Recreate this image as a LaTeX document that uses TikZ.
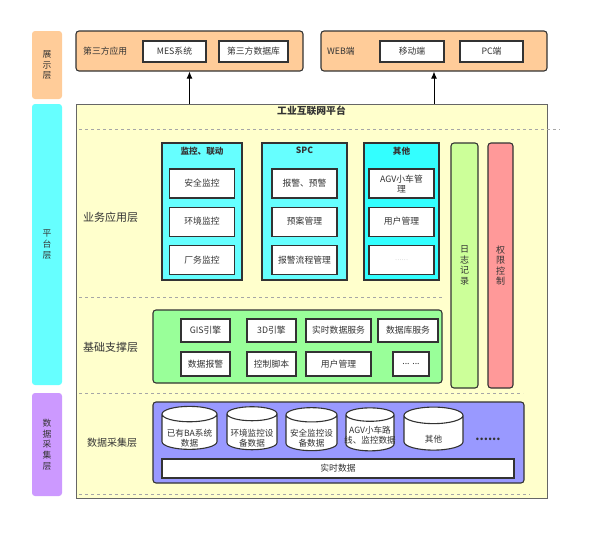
\documentclass[tikz,border=0pt]{standalone}
\usepackage{fontspec}
\setmainfont{Noto Sans CJK SC}
\usepackage{tikz}
\usepackage{xcolor}
\usetikzlibrary{positioning,shapes.geometric,arrows.meta}
\definecolor{show-orange}{HTML}{FFCC99}
\definecolor{plat-cyan}{HTML}{66FFFF}
\definecolor{deep-cyan}{HTML}{33FFFF}
\definecolor{data-purple}{HTML}{CC99FF}
\definecolor{plat-yellow}{HTML}{FFFFCC}
\definecolor{log-green}{HTML}{CCFF99}
\definecolor{perm-red}{HTML}{FF9999}
\definecolor{base-green}{HTML}{99FF99}
\definecolor{coll-blue}{HTML}{9999FF}
\definecolor{line-gray}{HTML}{333333}
\tikzset{
    layer-tag/.style = {fill=#1, rectangle, rounded corners=3pt, minimum width=30pt, text=line-gray, font=\fontsize{8.8}{10.8}\selectfont, align=center, inner sep=0pt},
    group-box/.style = {draw=line-gray, fill=#1, line width=1.1pt, rectangle, rounded corners=3pt, inner sep=0pt},
    column-box/.style = {draw=line-gray, fill=#1, line width=1.1pt, rectangle, inner sep=0pt, minimum height=137pt},
    column-title/.style = {font=\fontsize{8.6}{10}\selectfont\bfseries, text=line-gray},
    item-box/.style = {draw=line-gray, fill=white, line width=1.1pt, rectangle, inner sep=1pt, text=line-gray, font=\fontsize{8.8}{10}\selectfont, align=center},
    app-box/.style = {item-box, minimum width=65pt, minimum height=29pt, text width=60pt},
    side-bar/.style = {draw=line-gray, fill=#1, line width=1.1pt, rectangle, rounded corners=3pt, minimum height=245pt, inner sep=0pt, text=line-gray, font=\fontsize{9}{10.6}\selectfont, align=center},
    data-can/.style = {draw=line-gray, fill=white, line width=1.1pt, cylinder, shape border rotate=90, aspect=0.28, inner sep=0pt, text width=#1, text height=14pt, minimum width=#1, minimum height=43pt},
    can-text/.style = {text=line-gray, font=\fontsize{8.6}{10}\selectfont, align=center, inner sep=0pt},
    layer-name/.style = {text=line-gray, font=\fontsize{11}{13}\selectfont, anchor=west, inner sep=0pt},
    sep-line/.style = {draw=gray!70, dashed, line width=0.8pt},
    up-arrow/.style = {draw=black, line width=1pt, -{Latex[length=7pt,width=6pt]}},
}

\begin{document}
\begin{tikzpicture}[x=1pt,y=-1pt]
\useasboundingbox (0,0) rectangle (600,541);

% left layer tags
\node[layer-tag=show-orange, minimum height=68pt] (tag-show) at (47,65) {展\\示\\层};
\node[layer-tag=plat-cyan, minimum height=281pt] (tag-plat) at (47,244.5) {平\\台\\层};
\node[layer-tag=data-purple, minimum height=103pt] (tag-data) at (47,444.5) {数\\据\\采\\集\\层};

% display layer
\node[group-box=show-orange, minimum width=227pt, minimum height=40pt] (third) at (189.5,51) {};
\node[layer-name, font=\fontsize{8.8}{10}\selectfont] at (83,51) {第三方应用};
\node[item-box, minimum width=63pt, minimum height=21pt] (mes) at (174.5,51.5) {MES系统};
\node[item-box, minimum width=69pt, minimum height=21pt] (third-db) at (253.5,51.5) {第三方数据库};
\node[group-box=show-orange, minimum width=226pt, minimum height=40pt] (web) at (434,51) {};
\node[layer-name, font=\fontsize{8.8}{10}\selectfont] at (327,51) {WEB端};
\node[item-box, minimum width=64pt, minimum height=21pt] (mobile) at (412,51.5) {移动端};
\node[item-box, minimum width=63pt, minimum height=21pt] (pc) at (491.5,51.5) {PC端};

% platform
\node[draw=gray!80!black, fill=plat-yellow, line width=1pt, minimum width=471pt, minimum height=394pt, inner sep=0pt] (platform) at (311.5,301) {};
\node[font=\fontsize{9.8}{11}\selectfont\bfseries, text=line-gray] (plat-title) at (311.5,111) {工业互联网平台};
\draw[up-arrow] (platform.north -| third) -- (third.south);
\draw[up-arrow] (platform.north -| web) -- (web.south);

\draw[sep-line] (79,129) -- (560,129);
\draw[sep-line] (79,297) -- (442,297);
\draw[sep-line] (79,393) -- (523,393);
\draw[sep-line] (79,494) -- (530,494);

\node[layer-name] at (83,217) {业务应用层};
\node[layer-name] at (83,347) {基础支撑层};
\node[layer-name, font=\fontsize{10}{12}\selectfont] at (87,443) {数据采集层};

% business application columns
\node[column-box=plat-cyan, minimum width=80pt] (col-monitor) at (202,211.5) {};
\node[column-title] at (col-monitor.north) [below=1pt] {监控、联动};
\node[app-box, below=26pt of col-monitor.north] (safe) {安全监控};
\node[app-box, below=8pt of safe] (env) {环境监控};
\node[app-box, below=8pt of env] (fab) {厂务监控};

\node[column-box=plat-cyan, minimum width=85pt] (col-spc) at (304.5,211.5) {};
\node[column-title] at (col-spc.north) [below=1pt] {SPC};
\node[app-box, below=26pt of col-spc.north] (alarm) {报警、预警};
\node[app-box, below=8pt of alarm] (plan) {预案管理};
\node[app-box, below=8pt of plan] (flow) {报警流程管理};

\node[column-box=deep-cyan, minimum width=75pt] (col-other) at (401.5,211.5) {};
\node[column-title] at (col-other.north) [below=1pt] {其他};
\node[app-box, below=26pt of col-other.north] (agv) {AGV小车管\\理};
\node[app-box, below=8pt of agv] (user) {用户管理};
\node[app-box, below=8pt of user, text=gray!60, font=\fontsize{6}{7}\selectfont] (more) {……};

\node[side-bar=log-green, minimum width=27pt] (log) at (464.5,265.5) {日\\志\\记\\录};
\node[side-bar=perm-red, minimum width=25pt] (perm) at (500.5,265.5) {权\\限\\控\\制};

% basic support
\node[group-box=base-green, minimum width=289pt, minimum height=73pt] (support) at (297.5,346.5) {};
\node[item-box, minimum width=49pt, minimum height=23pt] (gis) at (205.5,330.5) {GIS引擎};
\node[item-box, minimum width=49pt, minimum height=23pt] (engine3d) at (271.5,330.5) {3D引擎};
\node[item-box, minimum width=65pt, minimum height=23pt] (rt-service) at (338.5,330.5) {实时数据服务};
\node[item-box, minimum width=60pt, minimum height=23pt] (db-service) at (408,330.5) {数据库服务};
\node[item-box, minimum width=49pt, minimum height=24pt] (data-alarm) at (205.5,364) {数据报警};
\node[item-box, minimum width=49pt, minimum height=24pt] (script) at (271.5,364) {控制脚本};
\node[item-box, minimum width=65pt, minimum height=24pt] (user-mgr) at (338.5,364) {用户管理};
\node[item-box, minimum width=36pt, minimum height=24pt] (etc) at (411,364) {... ...};

% data collection
\node[group-box=coll-blue, minimum width=371pt, minimum height=81pt] (collect) at (338.5,442.5) {};
\node[data-can=55pt] (ba) at (189.5,432) {};
\node[data-can=50pt] (env-data) at (252,432) {};
\node[data-can=51pt] (safe-data) at (311.5,433) {};
\node[data-can=48pt] (agv-data) at (370,433) {};
\node[data-can=59pt] (other-data) at (433.5,433) {};
\node[can-text] at ([yshift=-6pt]ba.center) {已有BA系统\\数据};
\node[can-text] at ([yshift=-6pt]env-data.center) {环境监控设\\备数据};
\node[can-text] at ([yshift=-5pt]safe-data.center) {安全监控设\\备数据};
\node[can-text] at ([yshift=-2pt]agv-data.center) {AGV小车路\\线、监控数据};
\node[can-text] at ([yshift=-6pt]other-data.center) {其他};
\node[font=\fontsize{12}{12}\selectfont\bfseries, text=line-gray] (dots) at (488,439) {......};
\node[item-box, minimum width=352pt, minimum height=19pt] (realtime) at (338,468.5) {实时数据};
\end{tikzpicture}
\end{document}
